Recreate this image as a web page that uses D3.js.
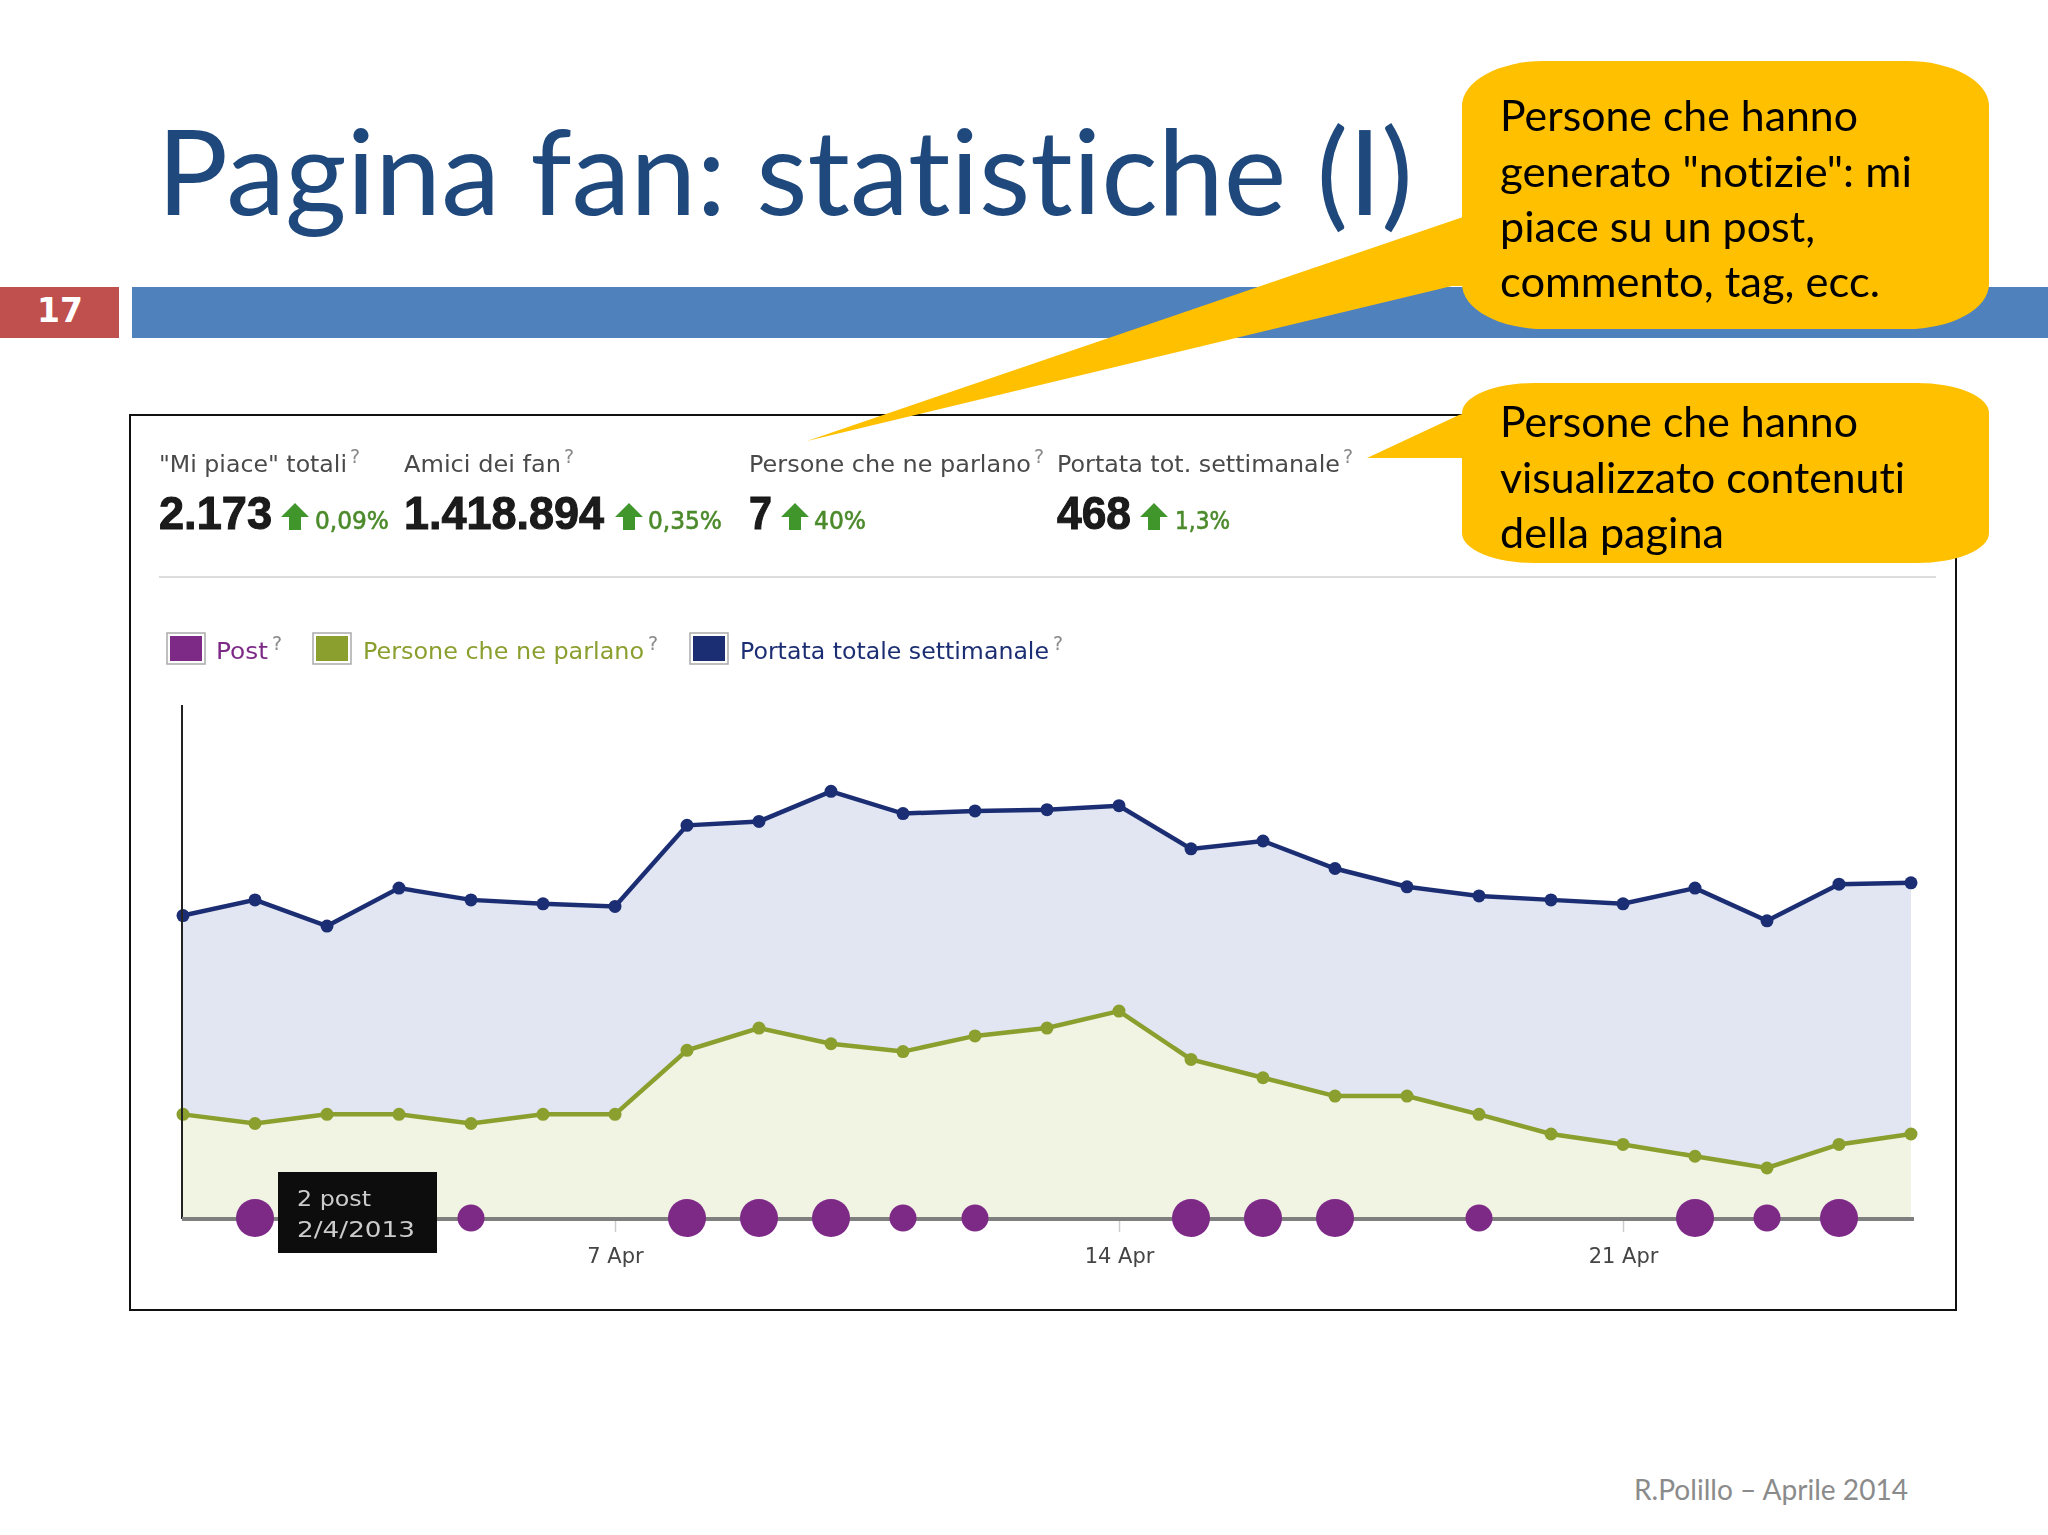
<!DOCTYPE html>
<html>
<head>
<meta charset="utf-8">
<script src="https://d3js.org/d3.v7.min.js"></script>
<style>
body { margin: 0; background: #fff; }
text { font-variant-ligatures: none; }
</style>
</head>
<body>
<div id="slide"></div>
<script>
// Values (plot units, same scale for both series)
const days = d3.range(1, 26).map(d => new Date(2013, 3, d));
const portata = [232, 244, 224, 253, 244, 241, 239, 301, 304, 327, 310, 312, 313, 316, 283, 289, 268, 254, 247, 244, 241, 253, 228, 256, 257];
const parlano = [80, 73, 80, 80, 73, 80, 80, 129, 146, 134, 128, 140, 146, 159, 122, 108, 94, 94, 80, 65, 57, 48, 39, 57, 65];
const posts = [0, 2, 0, 0, 1, 0, 0, 2, 2, 2, 1, 1, 0, 0, 2, 2, 2, 0, 1, 0, 0, 2, 1, 2, 0];
const tickDates = [new Date(2013, 3, 7), new Date(2013, 3, 14), new Date(2013, 3, 21)];

const titleText = 'Pagina fan: statistiche (I)';
const slideNumber = '17';
const footerText = 'R.Polillo – Aprile 2014';
const statLabels = ['"Mi piace" totali', 'Amici dei fan', 'Persone che ne parlano', 'Portata tot. settimanale'];
const statValues = ['2.173', '1.418.894', '7', '468'];
const statChanges = ['0,09%', '0,35%', '40%', '1,3%'];
const legendLabels = ['Post', 'Persone che ne parlano', 'Portata totale settimanale'];
const tooltipLines = ['2 post', '2/4/2013'];
const callout1Lines = ['Persone che hanno', 'generato "notizie": mi', 'piace su un post,', 'commento, tag, ecc.'];
const callout2Lines = ['Persone che hanno', 'visualizzato contenuti', 'della pagina'];

const width = 2048;
const height = 1535;
const purple = '#7d2a87', olive = '#8a9f2e', navy = '#1d2f73';
const calibri = 'Lato, sans-serif';
const verdana = '"DejaVu Sans", sans-serif';

const svg = d3.select('#slide').append('svg')
    .attr('width', width)
    .attr('height', height)
    .style('display', 'block')
    .style('background', '#fff');

// the chart is an upscaled screenshot, so soften it a little
svg.append('defs').append('filter')
    .attr('id', 'soft')
    .append('feGaussianBlur')
    .attr('stdDeviation', 0.6);

// text fitted to a measured width
function label(parent, text, x, y, w, size, fill, family, weight) {
    return parent.append('text')
        .attr('x', x)
        .attr('y', y)
        .attr('textLength', w)
        .attr('lengthAdjust', 'spacingAndGlyphs')
        .style('font-family', family)
        .style('font-size', size + 'px')
        .style('font-weight', weight || 'normal')
        .style('fill', fill)
        .text(text);
}

// slide header
label(svg, titleText, 157, 215, 1256, 118, '#1f497d', calibri);
svg.append('rect').attr('x', 0).attr('y', 287).attr('width', 119).attr('height', 51).attr('fill', '#c0504d');
svg.append('rect').attr('x', 132).attr('y', 287).attr('width', 1916).attr('height', 51).attr('fill', '#4f81bd');
svg.append('text')
    .attr('x', 60).attr('y', 322)
    .attr('text-anchor', 'middle')
    .style('font-family', verdana)
    .style('font-size', '33px')
    .style('font-weight', 'bold')
    .style('fill', '#fff')
    .text(slideNumber);
label(svg, footerText, 1634, 1500, 274, 29, '#8b8b8b', calibri);

// chart frame
svg.append('rect')
    .attr('x', 130).attr('y', 415)
    .attr('width', 1826).attr('height', 895)
    .attr('fill', '#fff')
    .attr('stroke', '#111')
    .attr('stroke-width', 2);

const chart = svg.append('g').attr('filter', 'url(#soft)');

// stats row
const statX = [159, 404, 749, 1057];
const statLabelW = [188, 157, 282, 283];
const statValueW = [113, 200, 23, 74];
const arrowX = [295, 629, 795, 1154];
const changeX = [315, 648, 814, 1175];
const changeW = [74, 74, 52, 55];

function question(x, y, size) {
    chart.append('text')
        .attr('x', x).attr('y', y)
        .style('font-family', verdana)
        .style('font-size', size + 'px')
        .style('fill', '#888')
        .text('?');
}

statLabels.forEach((d, i) => {
    label(chart, d, statX[i], 472, statLabelW[i], 23, '#4a4a4a', verdana);
    question(statX[i] + statLabelW[i] + 3, 463, 19);
    label(chart, statValues[i], statX[i], 529, statValueW[i], 46, '#1a1a1a', '"Liberation Sans", sans-serif', 'bold')
        .style('stroke', '#1a1a1a')
        .style('stroke-width', 1);
    chart.append('path')
        .attr('transform', `translate(${arrowX[i]},503)`)
        .attr('d', 'M0,0L14,14L6,14L6,27L-6,27L-6,14L-14,14Z')
        .attr('fill', '#3f962c');
    label(chart, statChanges[i], changeX[i], 529, changeW[i], 24, '#4c8a2b', verdana)
        .style('stroke', '#4c8a2b')
        .style('stroke-width', 0.6);
});

chart.append('rect').attr('x', 159).attr('y', 576).attr('width', 1777).attr('height', 2).attr('fill', '#ddd');

// legend
const legendColors = [purple, olive, navy];
const swatchX = [167, 313, 690];
const legendTextX = [216, 363, 740];
const legendTextW = [52, 281, 309];

legendLabels.forEach((d, i) => {
    chart.append('rect')
        .attr('x', swatchX[i]).attr('y', 633)
        .attr('width', 38).attr('height', 31)
        .attr('fill', '#fff').attr('stroke', '#aaa').attr('stroke-width', 1.5);
    chart.append('rect')
        .attr('x', swatchX[i] + 3).attr('y', 636)
        .attr('width', 32).attr('height', 25)
        .attr('fill', legendColors[i]);
    label(chart, d, legendTextX[i], 659, legendTextW[i], 23, legendColors[i], verdana);
    question(legendTextX[i] + legendTextW[i] + 4, 650, 19);
});

// plot
const x = d3.scaleTime().domain([days[0], days[24]]).range([183, 1911]);
const y = d3.scaleLinear().domain([0, 393]).range([1219, 705]);
const r = d3.scaleSqrt().domain([1, 2]).range([13.5, 19]);

const drawSeries = function(values, areaFill, lineColor, lineWidth, dotR) {
    const rows = days.map((d, i) => ({ d: d, v: values[i] }));
    chart.append('path')
        .datum(rows)
        .attr('fill', areaFill)
        .attr('d', d3.area().x(p => x(p.d)).y0(y(0)).y1(p => y(p.v)));
    chart.append('path')
        .datum(rows)
        .attr('fill', 'none')
        .attr('stroke', lineColor)
        .attr('stroke-width', lineWidth)
        .attr('d', d3.line().x(p => x(p.d)).y(p => y(p.v)));
    chart.append('g')
        .selectAll('circle')
        .data(rows)
        .enter()
        .append('circle')
        .attr('cx', p => x(p.d))
        .attr('cy', p => y(p.v))
        .attr('r', dotR)
        .attr('fill', lineColor);
};

drawSeries(portata, '#e2e6f2', navy, 4.5, 6.5);
drawSeries(parlano, '#f1f3e3', olive, 4.5, 6.5);

// axes
const xAxis = chart.append('g')
    .attr('transform', `translate(0,${y(0)})`)
    .call(d3.axisBottom(x)
        .tickValues(tickDates)
        .tickFormat(d3.timeFormat('%-d Apr'))
        .tickSize(13)
        .tickPadding(16));
xAxis.select('.domain').remove();
xAxis.selectAll('.tick line').attr('stroke', '#ccc').attr('stroke-width', 1.5);
xAxis.selectAll('.tick text')
    .style('font-family', verdana)
    .style('font-size', '21px')
    .style('fill', '#444');

chart.append('line')
    .attr('x1', x(days[0]) - 1).attr('x2', x(days[0]) - 1)
    .attr('y1', y(393)).attr('y2', y(0))
    .attr('stroke', '#222').attr('stroke-width', 2);
chart.append('line')
    .attr('x1', x(days[0]) - 1).attr('x2', 1914)
    .attr('y1', y(0)).attr('y2', y(0))
    .attr('stroke', '#7f7f7f').attr('stroke-width', 4);

// post bubbles
chart.append('g')
    .selectAll('circle')
    .data(days.map((d, i) => ({ d: d, n: posts[i] })).filter(p => p.n > 0))
    .enter()
    .append('circle')
    .attr('cx', p => x(p.d))
    .attr('cy', y(0) - 1)
    .attr('r', p => r(p.n))
    .attr('fill', purple);

// tooltip
chart.append('rect').attr('x', 278).attr('y', 1172).attr('width', 159).attr('height', 81).attr('fill', '#0c0c0c');
label(chart, tooltipLines[0], 297, 1206, 74, 22, '#ccc', verdana);
label(chart, tooltipLines[1], 297, 1237, 118, 22, '#ccc', verdana);

// callouts, drawn over everything else
function callout(x0, x1, y0, y1, rx, ry, tail) {
    const d = `M${x0 + rx},${y0}L${x1 - rx},${y0}A${rx},${ry} 0 0 1 ${x1},${y0 + ry}`
        + `L${x1},${y1 - ry}A${rx},${ry} 0 0 1 ${x1 - rx},${y1}`
        + `L${x0 + rx},${y1}A${rx},${ry} 0 0 1 ${x0},${y1 - ry}`
        + `L${x0},${y0 + ry}A${rx},${ry} 0 0 1 ${x0 + rx},${y0}Z`;
    svg.append('path').attr('d', d).attr('fill', '#ffc000');
    svg.append('path').attr('d', tail).attr('fill', '#ffc000');
}

callout(1462, 1989, 61, 329, 82, 45, 'M1466,216L807,441L1452,286L1470,286Z');
callout(1462, 1989, 383, 563, 72, 30, 'M1470,412L1459,415L1367,458L1470,458Z');

const callout1W = [358, 412, 315, 380];
const callout1Y = [131, 187, 242, 297];
callout1Lines.forEach((d, i) => label(svg, d, 1500, callout1Y[i], callout1W[i], 43, '#000', calibri));

const callout2W = [358, 405, 224];
const callout2Y = [437, 493, 548];
callout2Lines.forEach((d, i) => label(svg, d, 1500, callout2Y[i], callout2W[i], 43, '#000', calibri));
</script>
</body>
</html>
